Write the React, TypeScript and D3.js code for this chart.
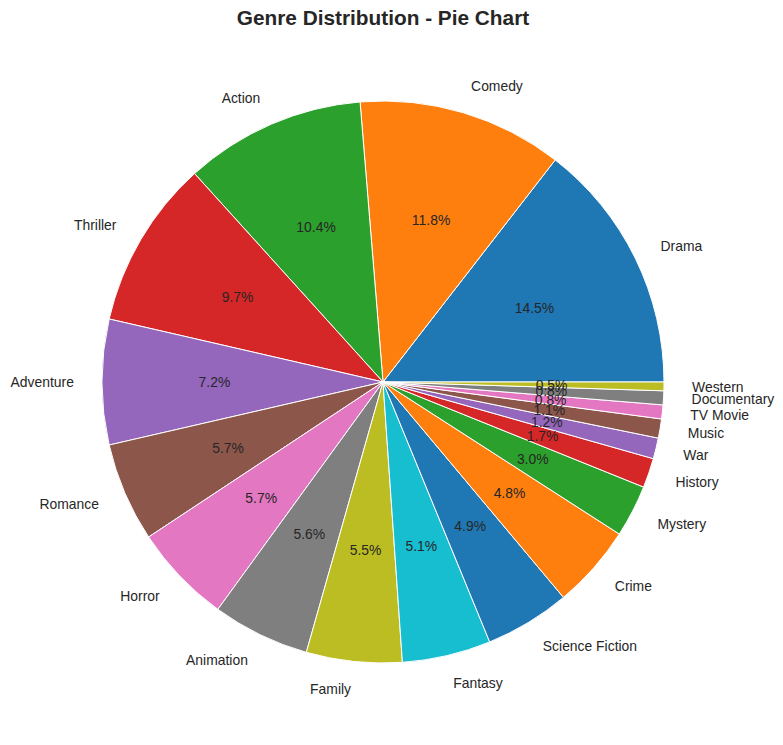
import { useMemo } from "react";
import * as d3 from "d3";

const width = 783;
const height = 745;
const cx = 383;
const cy = 382;
const radius = 281;

const genres = [
  "Drama", "Comedy", "Action", "Thriller", "Adventure", "Romance", "Horror",
  "Animation", "Family", "Fantasy", "Science Fiction", "Crime", "Mystery",
  "History", "War", "Music", "TV Movie", "Documentary", "Western",
];
const shares = [14.5, 11.8, 10.4, 9.7, 7.2, 5.7, 5.7, 5.6, 5.5, 5.1, 4.9, 4.8, 3.0, 1.7, 1.2, 1.1, 0.8, 0.8, 0.5];

const colors = [
  "#1f77b4", "#ff7f0e", "#2ca02c", "#d62728", "#9467bd",
  "#8c564b", "#e377c2", "#7f7f7f", "#bcbd22", "#17becf",
];

const font = "Arial, 'Liberation Sans', Helvetica, sans-serif";

export default function App() {
  // counter-clockwise from 3 o'clock, like matplotlib
  const slices = useMemo(() => {
    const pieGen = d3.pie<number>().value((d) => d).sort(null)
      .startAngle(Math.PI / 2).endAngle(Math.PI / 2 - 2 * Math.PI);
    return pieGen(shares);
  }, []);

  const arcGen = d3.arc<d3.PieArcDatum<number>>().innerRadius(0).outerRadius(radius);

  return (
    <svg width={width} height={height} style={{ display: "block", position: "absolute", left: 0, top: 0 }}>
      <rect width={width} height={height} fill="#fff" />
      <text x={cx} y={25} textAnchor="middle" fontFamily={font} fontSize={20.8} fontWeight={700} fill="#262626">
        Genre Distribution - Pie Chart
      </text>
      <g transform={`translate(${cx}, ${cy})`}>
        {slices.map((s, i) => (
          <path key={i} d={arcGen(s) ?? ""} fill={colors[i % colors.length]} stroke="#fff" strokeWidth={1} strokeLinejoin="round" />
        ))}
        {slices.map((s, i) => {
          const mid = (s.startAngle + s.endAngle) / 2; // d3 angle, clockwise from 12
          const x = Math.sin(mid);
          const y = -Math.cos(mid);
          return (
            <g key={i}>
              <text x={x * radius * 0.6} y={y * radius * 0.6} dy="0.35em" textAnchor="middle"
                fontFamily={font} fontSize={13.9} fill="#262626">
                {shares[i].toFixed(1)}%
              </text>
              <text x={x * radius * 1.1} y={y * radius * 1.1} dy="0.35em" textAnchor={x > 0 ? "start" : "end"}
                fontFamily={font} fontSize={13.9} fill="#262626">
                {genres[i]}
              </text>
            </g>
          );
        })}
      </g>
    </svg>
  );
}
